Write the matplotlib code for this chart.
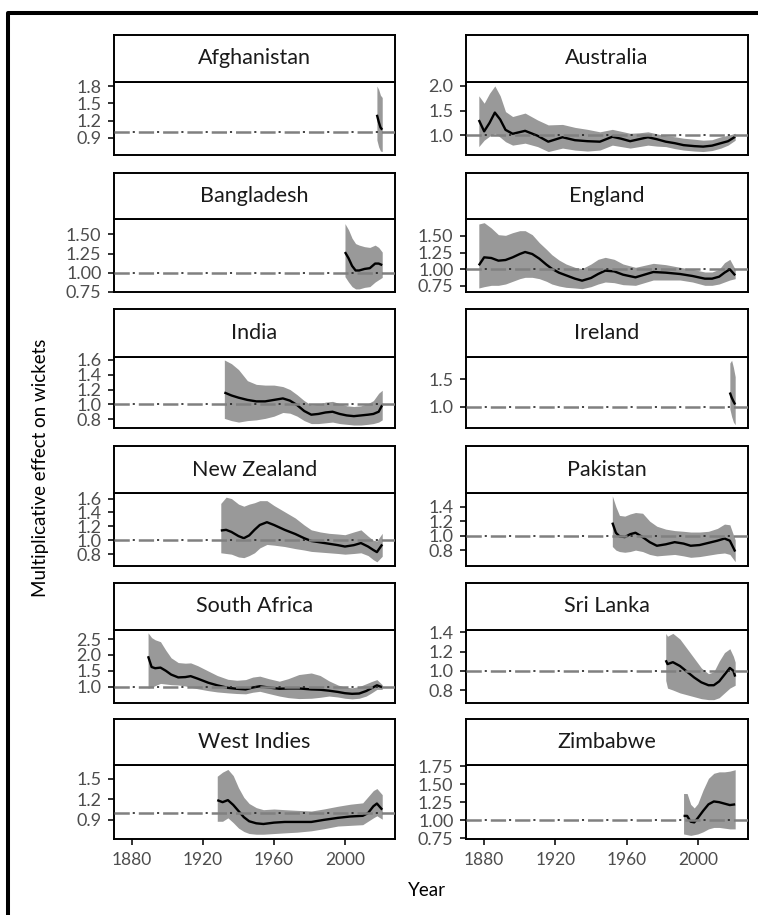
import matplotlib
import matplotlib.pyplot as plt
from matplotlib.lines import Line2D

matplotlib.use("Agg")

# ---- data ----
countries = [
    "Afghanistan", "Australia", "Bangladesh", "England", "India", "Ireland",
    "New Zealand", "Pakistan", "South Africa", "Sri Lanka", "West Indies", "Zimbabwe",
]

afg_year = [2018, 2019, 2020, 2021]
afg_fit = [1.30, 1.18, 1.08, 1.04]
afg_hi = [1.80, 1.74, 1.64, 1.60]
afg_lo = [0.86, 0.74, 0.67, 0.66]

aus_year = [1877, 1880, 1883, 1886, 1889, 1892, 1896, 1903, 1910, 1916, 1924, 1931, 1938, 1945, 1952,
            1957, 1962, 1967, 1972, 1977, 1982, 1987, 1992, 1998, 2003, 2008, 2013, 2017, 2021]
aus_fit = [1.31, 1.08, 1.25, 1.46, 1.32, 1.11, 1.03, 1.09, 0.99, 0.87, 0.96, 0.90, 0.88, 0.87, 0.97,
           0.93, 0.88, 0.92, 0.96, 0.92, 0.87, 0.84, 0.80, 0.78, 0.77, 0.79, 0.84, 0.88, 0.97]
aus_hi = [1.80, 1.65, 1.85, 2.00, 1.80, 1.48, 1.38, 1.45, 1.31, 1.21, 1.22, 1.16, 1.12, 1.07, 1.12,
          1.08, 1.04, 1.05, 1.07, 1.03, 0.99, 0.97, 0.94, 0.92, 0.90, 0.91, 0.97, 1.00, 1.04]
aus_lo = [0.77, 0.90, 0.98, 1.04, 0.96, 0.87, 0.80, 0.84, 0.77, 0.67, 0.74, 0.70, 0.68, 0.70, 0.80,
          0.77, 0.74, 0.77, 0.80, 0.78, 0.77, 0.73, 0.70, 0.68, 0.67, 0.69, 0.74, 0.80, 0.90]

ban_year = [2000, 2002, 2004, 2006, 2008, 2011, 2014, 2017, 2019, 2021]
ban_fit = [1.27, 1.19, 1.09, 1.03, 1.03, 1.05, 1.06, 1.12, 1.12, 1.10]
ban_hi = [1.64, 1.56, 1.45, 1.38, 1.36, 1.34, 1.33, 1.36, 1.33, 1.27]
ban_lo = [0.95, 0.88, 0.82, 0.79, 0.79, 0.81, 0.82, 0.88, 0.91, 0.94]

eng_year = [1877, 1880, 1884, 1888, 1892, 1896, 1900, 1903, 1907, 1911, 1915, 1918, 1922, 1926, 1931, 1935,
            1940, 1944, 1948, 1953, 1958, 1965, 1970, 1975, 1982, 1990, 1997, 2004, 2008, 2012, 2015, 2018, 2021]
eng_fit = [1.06, 1.18, 1.17, 1.13, 1.14, 1.18, 1.23, 1.26, 1.23, 1.16, 1.07, 1.01, 0.95, 0.91, 0.86, 0.83,
           0.87, 0.93, 0.98, 0.97, 0.92, 0.88, 0.92, 0.96, 0.95, 0.93, 0.90, 0.86, 0.86, 0.89, 0.95, 1.00, 0.91]
eng_hi = [1.68, 1.70, 1.62, 1.52, 1.51, 1.55, 1.58, 1.58, 1.52, 1.40, 1.30, 1.22, 1.14, 1.08, 1.03, 1.01,
          1.08, 1.15, 1.18, 1.15, 1.08, 1.03, 1.06, 1.09, 1.07, 1.03, 1.00, 0.96, 0.96, 1.00, 1.10, 1.15, 1.00]
eng_lo = [0.72, 0.74, 0.76, 0.76, 0.78, 0.82, 0.86, 0.88, 0.88, 0.86, 0.82, 0.78, 0.75, 0.73, 0.72, 0.71,
          0.74, 0.78, 0.81, 0.80, 0.77, 0.76, 0.80, 0.84, 0.84, 0.84, 0.81, 0.76, 0.76, 0.78, 0.81, 0.84, 0.86]

ind_year = [1932, 1936, 1940, 1945, 1950, 1955, 1960, 1965, 1969, 1973, 1977, 1981, 1985, 1989, 1993,
            1997, 2001, 2005, 2009, 2013, 2016, 2019, 2021]
ind_fit = [1.16, 1.12, 1.09, 1.06, 1.04, 1.04, 1.06, 1.08, 1.05, 0.99, 0.91, 0.86, 0.87, 0.89, 0.90,
           0.87, 0.85, 0.84, 0.85, 0.86, 0.87, 0.90, 0.99]
ind_hi = [1.60, 1.55, 1.47, 1.32, 1.27, 1.26, 1.26, 1.24, 1.20, 1.13, 1.05, 0.99, 1.00, 1.03, 1.04,
          1.01, 0.98, 0.97, 0.98, 1.01, 1.05, 1.15, 1.19]
ind_lo = [0.81, 0.78, 0.76, 0.78, 0.79, 0.81, 0.84, 0.89, 0.88, 0.84, 0.78, 0.74, 0.74, 0.75, 0.76,
          0.74, 0.73, 0.72, 0.72, 0.73, 0.74, 0.76, 0.79]

ire_year = [2018, 2019, 2020, 2021]
ire_fit = [1.26, 1.17, 1.10, 1.04]
ire_hi = [1.80, 1.85, 1.72, 1.55]
ire_lo = [0.96, 0.82, 0.72, 0.67]

nzl_year = [1930, 1933, 1936, 1940, 1943, 1946, 1949, 1952, 1956, 1960, 1966, 1972, 1977, 1981, 1986,
            1991, 1996, 2000, 2005, 2009, 2013, 2016, 2018, 2021]
nzl_fit = [1.14, 1.15, 1.12, 1.06, 1.03, 1.07, 1.15, 1.22, 1.26, 1.22, 1.15, 1.09, 1.03, 0.99, 0.97,
           0.95, 0.93, 0.91, 0.93, 0.96, 0.91, 0.86, 0.83, 0.94]
nzl_hi = [1.53, 1.62, 1.60, 1.52, 1.49, 1.52, 1.54, 1.57, 1.57, 1.50, 1.41, 1.32, 1.22, 1.15, 1.12,
          1.10, 1.09, 1.08, 1.12, 1.15, 1.06, 1.00, 0.99, 1.10]
nzl_lo = [0.82, 0.81, 0.80, 0.76, 0.75, 0.78, 0.82, 0.89, 0.94, 0.93, 0.91, 0.88, 0.86, 0.84, 0.83,
          0.82, 0.81, 0.80, 0.81, 0.82, 0.78, 0.72, 0.69, 0.77]

pak_year = [1952, 1954, 1956, 1959, 1962, 1965, 1969, 1973, 1977, 1982, 1987, 1992, 1996, 2001, 2006,
            2011, 2015, 2018, 2021]
pak_fit = [1.18, 1.04, 0.99, 0.98, 1.02, 1.04, 0.98, 0.91, 0.86, 0.88, 0.91, 0.89, 0.86, 0.87, 0.90,
           0.93, 0.96, 0.93, 0.78]
pak_hi = [1.55, 1.40, 1.28, 1.27, 1.30, 1.32, 1.31, 1.20, 1.13, 1.09, 1.07, 1.06, 1.05, 1.05, 1.06,
          1.10, 1.16, 1.15, 0.94]
pak_lo = [0.85, 0.80, 0.78, 0.77, 0.78, 0.80, 0.78, 0.74, 0.72, 0.73, 0.74, 0.72, 0.70, 0.71, 0.73,
          0.75, 0.76, 0.74, 0.64]

rsa_year = [1889, 1891, 1893, 1896, 1899, 1902, 1906, 1910, 1913, 1917, 1923, 1928, 1934, 1939, 1944, 1948,
            1952, 1957, 1963, 1968, 1974, 1981, 1986, 1991, 1996, 2000, 2004, 2008, 2012, 2015, 2018, 2021]
rsa_fit = [1.96, 1.62, 1.58, 1.60, 1.50, 1.38, 1.29, 1.30, 1.33, 1.25, 1.12, 1.04, 0.96, 0.93, 0.91, 0.97,
           1.01, 0.97, 0.93, 0.94, 0.94, 0.91, 0.90, 0.87, 0.83, 0.79, 0.77, 0.78, 0.86, 0.95, 1.04, 0.98]
rsa_hi = [2.70, 2.55, 2.48, 2.42, 2.15, 1.91, 1.76, 1.74, 1.75, 1.66, 1.49, 1.35, 1.23, 1.20, 1.22, 1.30,
          1.33, 1.25, 1.17, 1.25, 1.38, 1.43, 1.35, 1.18, 1.05, 0.98, 0.96, 1.00, 1.09, 1.16, 1.22, 1.06]
rsa_lo = [0.95, 0.98, 1.03, 1.10, 1.08, 1.06, 1.05, 1.02, 0.98, 0.93, 0.87, 0.83, 0.80, 0.78, 0.77, 0.82,
          0.85, 0.78, 0.70, 0.65, 0.62, 0.63, 0.66, 0.70, 0.67, 0.63, 0.61, 0.63, 0.70, 0.80, 0.91, 0.91]

sri_year = [1982, 1983, 1986, 1990, 1994, 1998, 2002, 2006, 2009, 2012, 2015, 2018, 2020, 2021]
sri_fit = [1.11, 1.07, 1.09, 1.05, 0.99, 0.93, 0.88, 0.85, 0.85, 0.89, 0.96, 1.03, 1.00, 0.94]
sri_hi = [1.39, 1.36, 1.39, 1.33, 1.23, 1.13, 1.03, 0.97, 0.99, 1.10, 1.19, 1.23, 1.15, 1.09]
sri_lo = [0.90, 0.82, 0.80, 0.77, 0.75, 0.73, 0.71, 0.70, 0.70, 0.72, 0.77, 0.82, 0.84, 0.85]

wi_year = [1928, 1931, 1934, 1937, 1940, 1943, 1946, 1950, 1954, 1960, 1966, 1973, 1981, 1988, 1996,
           2003, 2010, 2013, 2016, 2018, 2021]
wi_fit = [1.19, 1.16, 1.19, 1.12, 1.03, 0.94, 0.88, 0.85, 0.84, 0.86, 0.87, 0.87, 0.87, 0.90, 0.93,
          0.95, 0.96, 1.00, 1.10, 1.14, 1.05]
wi_hi = [1.54, 1.60, 1.64, 1.55, 1.37, 1.23, 1.14, 1.08, 1.05, 1.06, 1.05, 1.04, 1.03, 1.06, 1.10,
         1.13, 1.15, 1.24, 1.33, 1.36, 1.27]
wi_lo = [0.88, 0.88, 0.93, 0.86, 0.78, 0.73, 0.70, 0.69, 0.69, 0.70, 0.71, 0.72, 0.74, 0.77, 0.81,
         0.82, 0.83, 0.88, 0.93, 0.96, 0.91]

zim_year = [1992, 1994, 1996, 1998, 2000, 2003, 2006, 2009, 2012, 2015, 2018, 2021]
zim_fit = [1.06, 1.06, 0.98, 0.97, 1.03, 1.13, 1.22, 1.26, 1.25, 1.23, 1.21, 1.22]
zim_hi = [1.37, 1.37, 1.22, 1.17, 1.23, 1.42, 1.58, 1.65, 1.67, 1.67, 1.68, 1.70]
zim_lo = [0.81, 0.80, 0.79, 0.80, 0.81, 0.84, 0.88, 0.90, 0.90, 0.89, 0.88, 0.88]

series = [
    (afg_year, afg_fit, afg_lo, afg_hi),
    (aus_year, aus_fit, aus_lo, aus_hi),
    (ban_year, ban_fit, ban_lo, ban_hi),
    (eng_year, eng_fit, eng_lo, eng_hi),
    (ind_year, ind_fit, ind_lo, ind_hi),
    (ire_year, ire_fit, ire_lo, ire_hi),
    (nzl_year, nzl_fit, nzl_lo, nzl_hi),
    (pak_year, pak_fit, pak_lo, pak_hi),
    (rsa_year, rsa_fit, rsa_lo, rsa_hi),
    (sri_year, sri_fit, sri_lo, sri_hi),
    (wi_year, wi_fit, wi_lo, wi_hi),
    (zim_year, zim_fit, zim_lo, zim_hi),
]

y_tick_labels = [
    ["0.9", "1.2", "1.5", "1.8"],
    ["1.0", "1.5", "2.0"],
    ["0.75", "1.00", "1.25", "1.50"],
    ["0.75", "1.00", "1.25", "1.50"],
    ["0.8", "1.0", "1.2", "1.4", "1.6"],
    ["1.0", "1.5"],
    ["0.8", "1.0", "1.2", "1.4", "1.6"],
    ["0.8", "1.0", "1.2", "1.4"],
    ["1.0", "1.5", "2.0", "2.5"],
    ["0.8", "1.0", "1.2", "1.4"],
    ["0.9", "1.2", "1.5"],
    ["0.75", "1.00", "1.25", "1.50", "1.75"],
]
x_ticks = [1880, 1920, 1960, 2000]

# ---- layout / styling ----
plt.rcParams["font.family"] = ["Lato", "DejaVu Sans"]
plt.rcParams["lines.scale_dashes"] = False

W, H = 758, 915
col_x = [(114, 395), (466, 748)]
strip_top = [35, 173, 309, 446, 583, 719]
axes_top = [82, 219, 357, 493, 630, 765]
axes_bot = [155, 292, 428, 566, 703, 839]
y_limits = [(0.60, 1.87), (0.60, 2.08), (0.75, 1.70), (0.66, 1.755), (0.68, 1.64), (0.61, 1.91),
            (0.63, 1.68), (0.58, 1.59), (0.48, 2.79), (0.665, 1.425), (0.62, 1.705), (0.74, 1.765)]


def rect(x0, y0, x1, y1):
    return [x0 / W, 1 - y1 / H, (x1 - x0) / W, (y1 - y0) / H]


fig = plt.figure(figsize=(W / 100, H / 100), dpi=100, facecolor="white")

for i, name in enumerate(countries):
    row, col = divmod(i, 2)
    x0, x1 = col_x[col]
    year, fit, lo, hi = series[i]

    ax = fig.add_axes(rect(x0, axes_top[row], x1, axes_bot[row]))
    ax.fill_between(year, lo, hi, color="#999999", linewidth=0, zorder=1)
    ax.plot(year, fit, color="black", linewidth=1.7, zorder=2,
            solid_joinstyle="round", solid_capstyle="butt")
    # reference line at 1: grey dashes with small dark flecks in the gaps
    ax.axhline(1.0, color="#222222", linewidth=1.2, linestyle=(4.0, (1.5, 16.0)), zorder=2.5)
    ax.axhline(1.0, color="#808080", linewidth=1.8, linestyle=(0, (11, 6.5)), zorder=3)

    ax.set_xlim(1869.8, 2028.2)
    ax.set_ylim(*y_limits[i])
    labels = y_tick_labels[i]
    ax.set_yticks([float(s) for s in labels])
    ax.set_yticklabels(labels)
    ax.tick_params(axis="y", length=4, width=1.4, color="#333333", labelcolor="#4d4d4d",
                   labelsize=13, pad=5)
    if row == 5:
        ax.set_xticks(x_ticks)
        ax.set_xticklabels([str(t) for t in x_ticks])
        ax.tick_params(axis="x", length=4.5, width=1.4, color="#333333", labelcolor="#4d4d4d",
                       labelsize=12.5, pad=5)
    else:
        ax.set_xticks([])
    for spine in ax.spines.values():
        spine.set_linewidth(1.4)
        spine.set_color("black")

    sax = fig.add_axes(rect(x0, strip_top[row], x1, axes_top[row]))
    sax.set_xticks([])
    sax.set_yticks([])
    for spine in sax.spines.values():
        spine.set_linewidth(1.4)
        spine.set_color("black")
    sax.text(0.5, 0.5, name, transform=sax.transAxes, ha="center", va="center",
             fontsize=15.5, color="#1a1a1a")

fig.text(41 / W, 1 - 468 / H, "Multiplicative effect on wickets", rotation=90,
         ha="center", va="center", fontsize=13.5, color="black")
fig.text(427 / W, 1 - 891 / H, "Year", ha="center", va="center", fontsize=13.5, color="black")

# outer frame (cropped page border)
fig.add_artist(Line2D([8 / W, 8 / W, 1.0], [0.0, 1 - 13 / H, 1 - 13 / H],
                      transform=fig.transFigure, color="black", linewidth=2.9))

fig.savefig("out.png", dpi=100, facecolor="white")
plt.close(fig)
